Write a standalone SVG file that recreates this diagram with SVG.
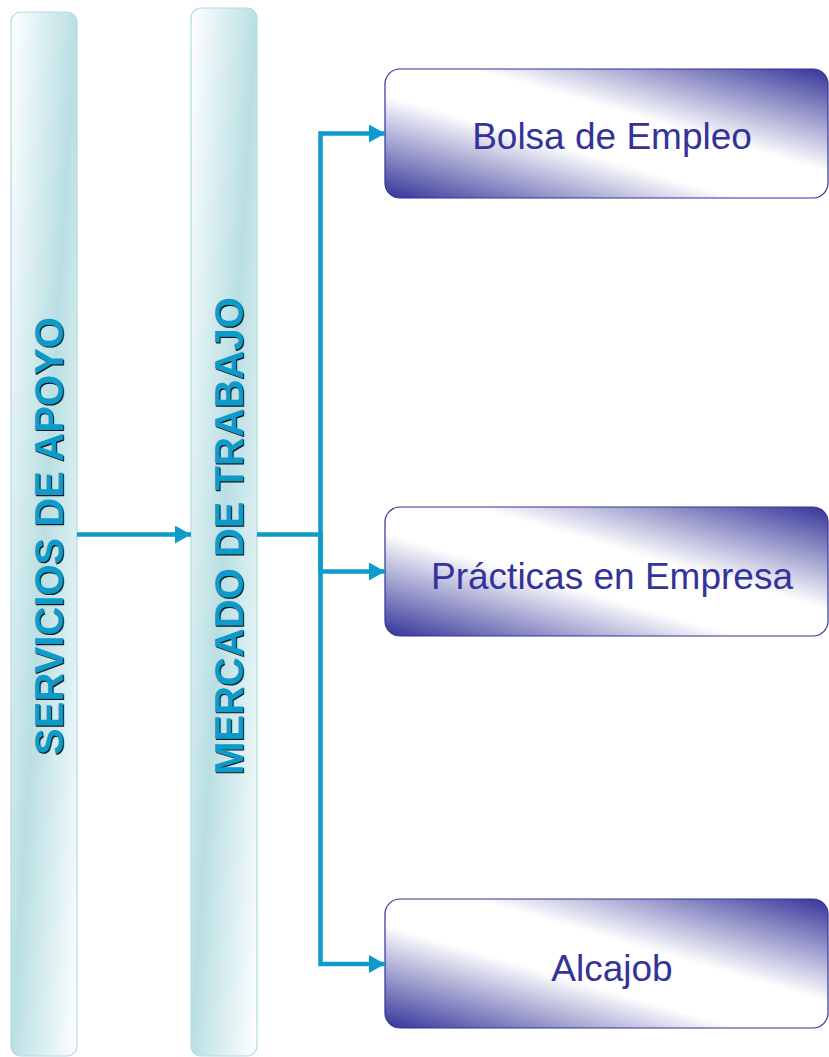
<svg xmlns="http://www.w3.org/2000/svg" width="829" height="1057" viewBox="0 0 829 1057">
<defs>
<linearGradient id="colGrad" x1="0" y1="0" x2="1" y2="1">
<stop offset="0" stop-color="#ffffff"/>
<stop offset="0.5" stop-color="#b9dfe3"/>
<stop offset="1" stop-color="#ffffff"/>
</linearGradient>
<linearGradient id="boxGrad" x1="0" y1="1" x2="1" y2="0">
<stop offset="0" stop-color="#333399"/>
<stop offset="0.4" stop-color="#ffffff"/>
<stop offset="0.6" stop-color="#ffffff"/>
<stop offset="1" stop-color="#333399"/>
</linearGradient>
<marker id="arrow" markerUnits="userSpaceOnUse" markerWidth="16" markerHeight="18" refX="16" refY="9" orient="auto">
<path d="M0,0 L16,9 L0,18 Z" fill="#0d9bcb"/>
</marker>
<style>
.col { fill: url(#colGrad); stroke: #b3dbe1; stroke-width: 1.2; }
.box { fill: url(#boxGrad); stroke: #333399; stroke-width: 1.2; }
.vt { font-family: "Liberation Sans", Arial, sans-serif; font-weight: bold; font-size: 40px; text-anchor: middle; }
.vt-fill { fill: #0d9bcb; }
.vt-shadow { fill: #1a1a1a; }
.bt { font-family: "Liberation Sans", Arial, sans-serif; font-size: 37px; fill: #333399; text-anchor: middle; }
.conn { fill: none; stroke: #0d9bcb; stroke-width: 4.5; }
</style>
</defs>

<g id="node-servicios">
<rect class="col" x="11" y="12" width="66" height="1044" rx="10" ry="10"/>
<text class="vt vt-shadow" transform="translate(64.2,537.2) rotate(-90)">SERVICIOS DE APOYO</text>
<text class="vt vt-fill" transform="translate(63,536) rotate(-90)">SERVICIOS DE APOYO</text>
</g>

<g id="node-mercado">
<rect class="col" x="191" y="8" width="66" height="1048" rx="10" ry="10"/>
<text class="vt vt-shadow" transform="translate(244.2,537.2) rotate(-90)">MERCADO DE TRABAJO</text>
<text class="vt vt-fill" transform="translate(243,536) rotate(-90)">MERCADO DE TRABAJO</text>
</g>

<g id="node-bolsa">
<rect class="box" x="385" y="69" width="443" height="129" rx="15" ry="15"/>
<text class="bt" x="612" y="149">Bolsa de Empleo</text>
</g>

<g id="node-practicas">
<rect class="box" x="385" y="507" width="443" height="129" rx="15" ry="15"/>
<text class="bt" x="612" y="589">Prácticas en Empresa</text>
</g>

<g id="node-alcajob">
<rect class="box" x="385" y="899" width="443" height="129" rx="15" ry="15"/>
<text class="bt" x="612" y="981">Alcajob</text>
</g>

<g id="connectors">
<line class="conn" x1="77" y1="534.5" x2="191" y2="534.5" marker-end="url(#arrow)"/>
<line class="conn" x1="257" y1="534.5" x2="322" y2="534.5"/>
<polyline class="conn" points="320.5,536 320.5,133.5 385,133.5" marker-end="url(#arrow)"/>
<polyline class="conn" points="320.5,534 320.5,571.5 385,571.5" marker-end="url(#arrow)"/>
<polyline class="conn" points="320.5,534 320.5,964 385,964" marker-end="url(#arrow)"/>
</g>
</svg>
